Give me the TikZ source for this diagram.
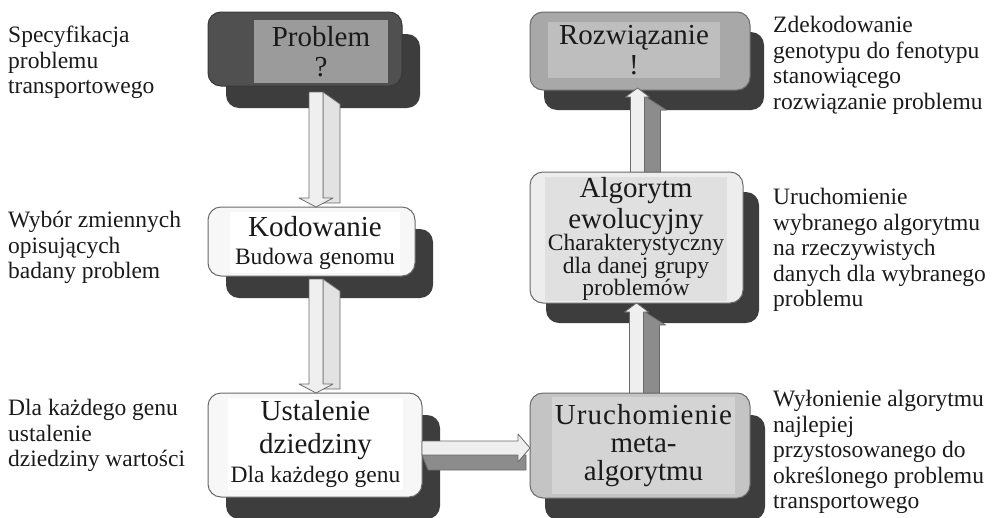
\documentclass[tikz,border=0pt]{standalone}
\usepackage{fontspec}
\setmainfont{Liberation Serif}
\usetikzlibrary{calc}
\definecolor{shadowc}{HTML}{3D3D3D}
\definecolor{probfill}{HTML}{505050}
\definecolor{probin}{HTML}{9B9B9B}
\definecolor{rozfill}{HTML}{A8A8A8}
\definecolor{rozin}{HTML}{BEBEBE}
\definecolor{wfill}{HTML}{F7F7F7}
\definecolor{algfill}{HTML}{EDEDED}
\definecolor{algin}{HTML}{E0E0E0}
\definecolor{urufill}{HTML}{C4C4C4}
\definecolor{uruin}{HTML}{D4D4D4}
\definecolor{bord}{HTML}{6A6A6A}
\definecolor{alight}{HTML}{EFEFEF}
\definecolor{aside}{HTML}{E2E2E2}
\definecolor{agrey}{HTML}{8C8C8C}
\definecolor{txt}{HTML}{1A1A1A}
\tikzset{
  frontbox/.style={draw=bord, line width=1pt, rounded corners=13pt, inner sep=0pt, outer sep=0pt},
  shadowbox/.style={fill=shadowc, rounded corners=13pt, inner sep=0pt, outer sep=0pt},
  innerbox/.style={inner sep=0pt, outer sep=0pt, align=center, text=txt, font=\fontsize{29}{32}\selectfont},
  sidetext/.style={anchor=north west, align=left, inner sep=0pt, text=txt, font=\fontsize{23.5}{25.6}\selectfont},
  arrowface/.style={fill=alight, draw=bord, line width=0.8pt, line join=round},
  arrowside/.style={draw=bord, line width=0.8pt, line join=round},
}
\newcommand{\sub}{\fontsize{23.5}{24.5}\selectfont}
\begin{document}
\begin{tikzpicture}[x=1pt,y=-1pt]
\useasboundingbox (0,0) rectangle (992,517);
% ---------- shadows ----------
\node[shadowbox, minimum width=194pt, minimum height=74pt] (probS) at (323,71) {};
\node[shadowbox, minimum width=207pt, minimum height=69pt] (kodS) at (329.5,263.5) {};
\node[shadowbox, minimum width=214pt, minimum height=104pt] (ustS) at (333,467) {};
\node[shadowbox, minimum width=220pt, minimum height=105pt] (uruS) at (655,467.5) {};
\node[shadowbox, minimum width=213pt, minimum height=131pt] (algS) at (652.5,257.5) {};
\node[shadowbox, minimum width=220pt, minimum height=78pt] (rozS) at (654,71) {};
% ---------- front boxes ----------
\node[frontbox, fill=probfill, draw=probfill!70!black, minimum width=194pt, minimum height=74pt] (probF) at (305,49) {};
\node[frontbox, fill=wfill, minimum width=207pt, minimum height=69pt] (kodF) at (311.5,241.5) {};
\node[frontbox, fill=wfill, minimum width=214pt, minimum height=104pt] (ustF) at (315,445) {};
\node[frontbox, fill=urufill, minimum width=220pt, minimum height=105pt] (uruF) at (640,445.5) {};
\node[frontbox, fill=algfill, minimum width=213pt, minimum height=131pt] (algF) at (636.5,237.5) {};
\node[frontbox, fill=rozfill, minimum width=220pt, minimum height=78pt] (rozF) at (640,51) {};
% ---------- inner panels with text ----------
\node[innerbox, fill=probin, minimum width=134pt, minimum height=63pt] (prob) at (321,51.5) {Problem\\[-2pt]?};
\node[innerbox, fill=white, minimum width=170pt, minimum height=61pt] (kod) at (315,242.5) {Kodowanie\\[-4pt]{\sub Budowa genomu}};
\node[innerbox, fill=white, minimum width=175pt, minimum height=92pt] (ust) at (315.5,444) {Ustalenie\\[1pt]dziedziny\\[-3pt]{\sub Dla każdego genu}};
\node[innerbox, fill=uruin, minimum width=183pt, minimum height=97pt] (uru) at (643.5,445.5) {{\addfontfeature{LetterSpace=3.5}Uruchomienie}\\[-4pt]meta-\\[-4pt]algorytmu};
\node[innerbox, fill=algin, minimum width=182pt, minimum height=122pt] (alg) at (636,239) {Algorytm\\[-1pt]ewolucyjny\\[-10pt]{\sub Charakterystyczny}\\[-9pt]{\sub dla danej grupy}\\[-10pt]{\sub problemów}};
\node[innerbox, fill=rozin, minimum width=172pt, minimum height=56pt] (roz) at (634,50) {Rozwiązanie\\[-2pt]!};
% ---------- 3D arrows ----------
% down arrows (left column)
\coordinate (a1s) at ($(probF.south)+(11,6)$);
\coordinate (a1e) at (a1s |- kodF.north);
\coordinate (a2s) at ($(kodF.south)+(4.5,3)$);
\coordinate (a2e) at (a2s |- ustF.north);
\foreach \s/\e in {a1s/a1e, a2s/a2e}{
  \path[arrowside, fill=aside] let \p1=(\s), \p2=(\e) in
      (\x1+7pt,\y1) -- (\x1+24pt,\y1-12pt) -- (\x1+24pt,\y2+4pt) -- (\x1+7pt,\y2+4pt) -- cycle;
  \path[arrowface] let \p1=(\s), \p2=(\e) in
      (\x1-7pt,\y1) -- (\x1+7pt,\y1) -- (\x1+7pt,\y2+9pt) -- (\x1+17pt,\y2+9pt)
      -- (\x1,\y2) -- (\x1-17pt,\y2+9pt) -- (\x1-7pt,\y2+9pt) -- cycle;
}
% up arrows (right column)
\coordinate (a4s) at ($(uruF.north)+(-3.5,0)$);
\coordinate (a4e) at (a4s |- algF.south);
\coordinate (a5s) at ($(algF.north)+(1,0)$);
\coordinate (a5e) at ($(a5s |- rozF.south)+(0,-2)$);
\foreach \s/\e in {a4s/a4e, a5s/a5e}{
  \path[arrowside, fill=agrey] let \p1=(\s), \p2=(\e) in
      (\x1+7pt,\y1) -- (\x1+7pt,\y2-8pt) -- (\x1+29pt,\y2-22pt) -- (\x1+23pt,\y2-22pt)
      -- (\x1+23pt,\y1) -- cycle;
  \path[arrowface] let \p1=(\s), \p2=(\e) in
      (\x1-7pt,\y1) -- (\x1+7pt,\y1) -- (\x1+7pt,\y2-9pt) -- (\x1+12pt,\y2-9pt)
      -- (\x1,\y2) -- (\x1-12pt,\y2-9pt) -- (\x1-7pt,\y2-9pt) -- cycle;
}
% horizontal arrow
\coordinate (a3s) at ($(ustF.east)+(0,3)$);
\coordinate (a3e) at (a3s -| uruF.west);
\path[arrowside, fill=agrey] let \p1=(a3s), \p2=(a3e) in
    (\x1,\y1-7pt) -- (\x2-4pt,\y1-7pt) -- (\x2-4pt,\y1-22pt) -- (\x1+6pt,\y1-22pt) -- cycle;
\path[arrowface] let \p1=(a3s), \p2=(a3e) in
    (\x1,\y1+7pt) -- (\x2-12pt,\y1+7pt) -- (\x2-12pt,\y1+14pt) -- (\x2,\y1)
    -- (\x2-12pt,\y1-14pt) -- (\x2-12pt,\y1-7pt) -- (\x1,\y1-7pt) -- cycle;
% ---------- side texts ----------
\node[sidetext] (t1) at (8,26) {Specyfikacja\\problemu\\transportowego};
\node[sidetext] (t2) at (8,211) {Wybór zmiennych\\opisujących\\badany problem};
\node[sidetext] (t3) at (8,399) {Dla każdego genu\\ustalenie\\dziedziny wartości};
\node[sidetext] (t4) at (773,16) {Zdekodowanie\\genotypu do fenotypu\\stanowiącego\\rozwiązanie problemu};
\node[sidetext] (t5) at (773,188) {Uruchomienie\\wybranego algorytmu\\na rzeczywistych\\danych dla wybranego\\problemu};
\node[sidetext] (t6) at (773,390) {Wyłonienie algorytmu\\najlepiej\\przystosowanego do\\określonego problemu\\transportowego};
\end{tikzpicture}
\end{document}
